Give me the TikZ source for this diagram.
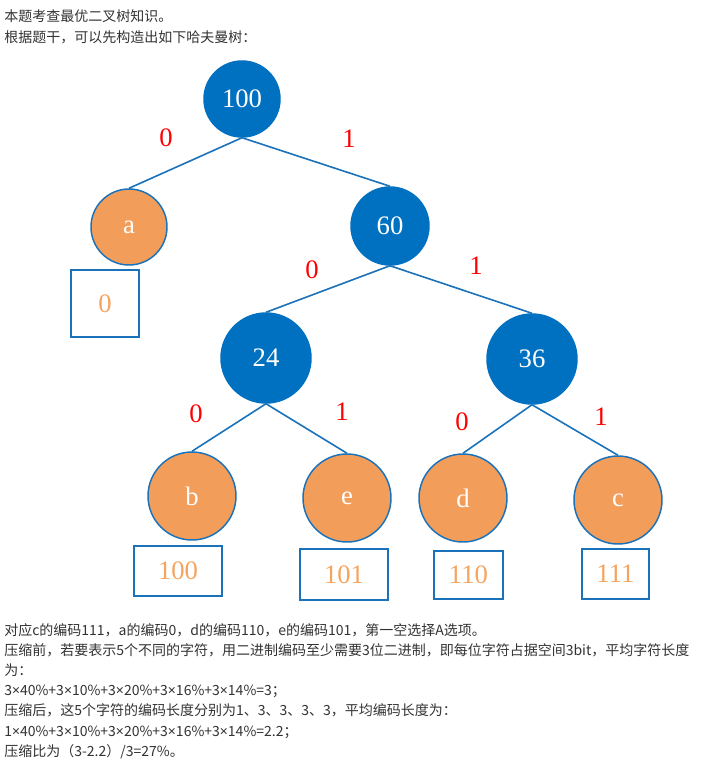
\documentclass[tikz,border=0pt]{standalone}
\usepackage{fontspec}
\setmainfont{Liberation Serif}
\newfontfamily\cjk{Noto Sans CJK SC}
\newfontfamily\latfont{Noto Sans}
\newcommand\mtimes{{\latfont ×}}
\definecolor{nodeblue}{HTML}{0070C0}
\definecolor{lineblue}{HTML}{1A72BB}
\definecolor{leaforange}{HTML}{F39D5A}
\definecolor{codeorange}{HTML}{F5A45F}
\definecolor{txtgray}{HTML}{333333}
\begin{document}
\begin{tikzpicture}[x=0.75pt,y=-0.75pt,
  inner/.style={circle,fill=nodeblue,draw=nodeblue,line width=1.1pt,text=white,font=\fontsize{20}{24}\selectfont,inner sep=0pt},
  leaf/.style={circle,fill=leaforange,draw=lineblue,line width=1.1pt,text=white,font=\fontsize{20}{24}\selectfont,inner sep=0pt},
  codebox/.style={rectangle,draw=lineblue,line width=1.1pt,text=codeorange,font=\fontsize{20}{24}\selectfont,inner sep=0pt},
  bit/.style={text=red,font=\fontsize{20}{24}\selectfont,inner sep=0pt},
  edge/.style={draw=lineblue,line width=1.2pt},
  para/.style={anchor=base west,inner sep=0pt,text=txtgray,font=\cjk\fontsize{10.5}{12}\selectfont}]
\useasboundingbox[fill=white] (0,0) rectangle (726,765);
% text top
\node[para] (t1) at (4,21) {本题考查最优二叉树知识。};
\node[para] (t2) at (4,42) {根据题干，可以先构造出如下哈夫曼树：};
% tree nodes
\node[inner,minimum size=76*0.75pt] (n100) at (242,99) {100};
\node[leaf,minimum size=76*0.75pt] (na) at (129,227) {a};
\node[inner,minimum size=78*0.75pt] (n60) at (390,226) {60};
\node[inner,minimum size=90*0.75pt] (n24) at (266,358) {24};
\node[inner,minimum size=90*0.75pt] (n36) at (532,359) {36};
\node[leaf,minimum size=88*0.75pt] (nb) at (192,496) {b};
\node[leaf,minimum size=88*0.75pt] (ne) at (347,498) {e};
\node[leaf,minimum size=88*0.75pt] (nd) at (463,498) {d};
\node[leaf,minimum size=88*0.75pt] (nc) at (618,500) {c};
% code boxes
\node[codebox,minimum width=68*0.75pt,minimum height=67*0.75pt] (ca) at (105,303.5) {0};
\node[codebox,minimum width=88*0.75pt,minimum height=50*0.75pt] (cb) at (178,571) {100};
\node[codebox,minimum width=88*0.75pt,minimum height=51*0.75pt] (ce) at (344,574.5) {101};
\node[codebox,minimum width=69*0.75pt,minimum height=48*0.75pt] (cd) at (468.5,575) {110};
\node[codebox,minimum width=67*0.75pt,minimum height=50*0.75pt] (cc) at (615.5,574) {111};
% edges
\draw[edge] (n100.south) -- (na.north);
\draw[edge] (n100.south) -- (n60.north);
\draw[edge] (n60.south) -- (n24.north);
\draw[edge] (n60.south) -- (n36.north);
\draw[edge] (n24.south) -- (nb.north);
\draw[edge] (n24.south) -- (ne.north);
\draw[edge] (n36.south) -- (nd.north);
\draw[edge] (n36.south) -- (nc.north);
% bit labels
\node[bit] (l1) at (166,138) {0};
\node[bit] (l2) at (349,139) {1};
\node[bit] (l3) at (312,270) {0};
\node[bit] (l4) at (476,266) {1};
\node[bit] (l5) at (196,414) {0};
\node[bit] (l6) at (342,412) {1};
\node[bit] (l7) at (462,422) {0};
\node[bit] (l8) at (601,417) {1};
% text bottom
\node[para] (b1) at (4,635) {对应c的编码111，a的编码0，d的编码110，e的编码101，第一空选择A选项。};
\node[para] (b2) at (4,655) {压缩前，若要表示5个不同的字符，用二进制编码至少需要3位二进制，即每位字符占据空间3bit，平均字符长度};
\node[para] (b3) at (4,675) {为：};
\node[para] (b4) at (4,695) {3\mtimes40\%+3\mtimes10\%+3\mtimes20\%+3\mtimes16\%+3\mtimes14\%=3；};
\node[para] (b5) at (4,715) {压缩后，这5个字符的编码长度分别为1、3、3、3、3，平均编码长度为：};
\node[para] (b6) at (4,736) {1\mtimes40\%+3\mtimes10\%+3\mtimes20\%+3\mtimes16\%+3\mtimes14\%=2.2；};
\node[para] (b7) at (4,756) {压缩比为（3-2.2）/3=27\%。};
\end{tikzpicture}
\end{document}
